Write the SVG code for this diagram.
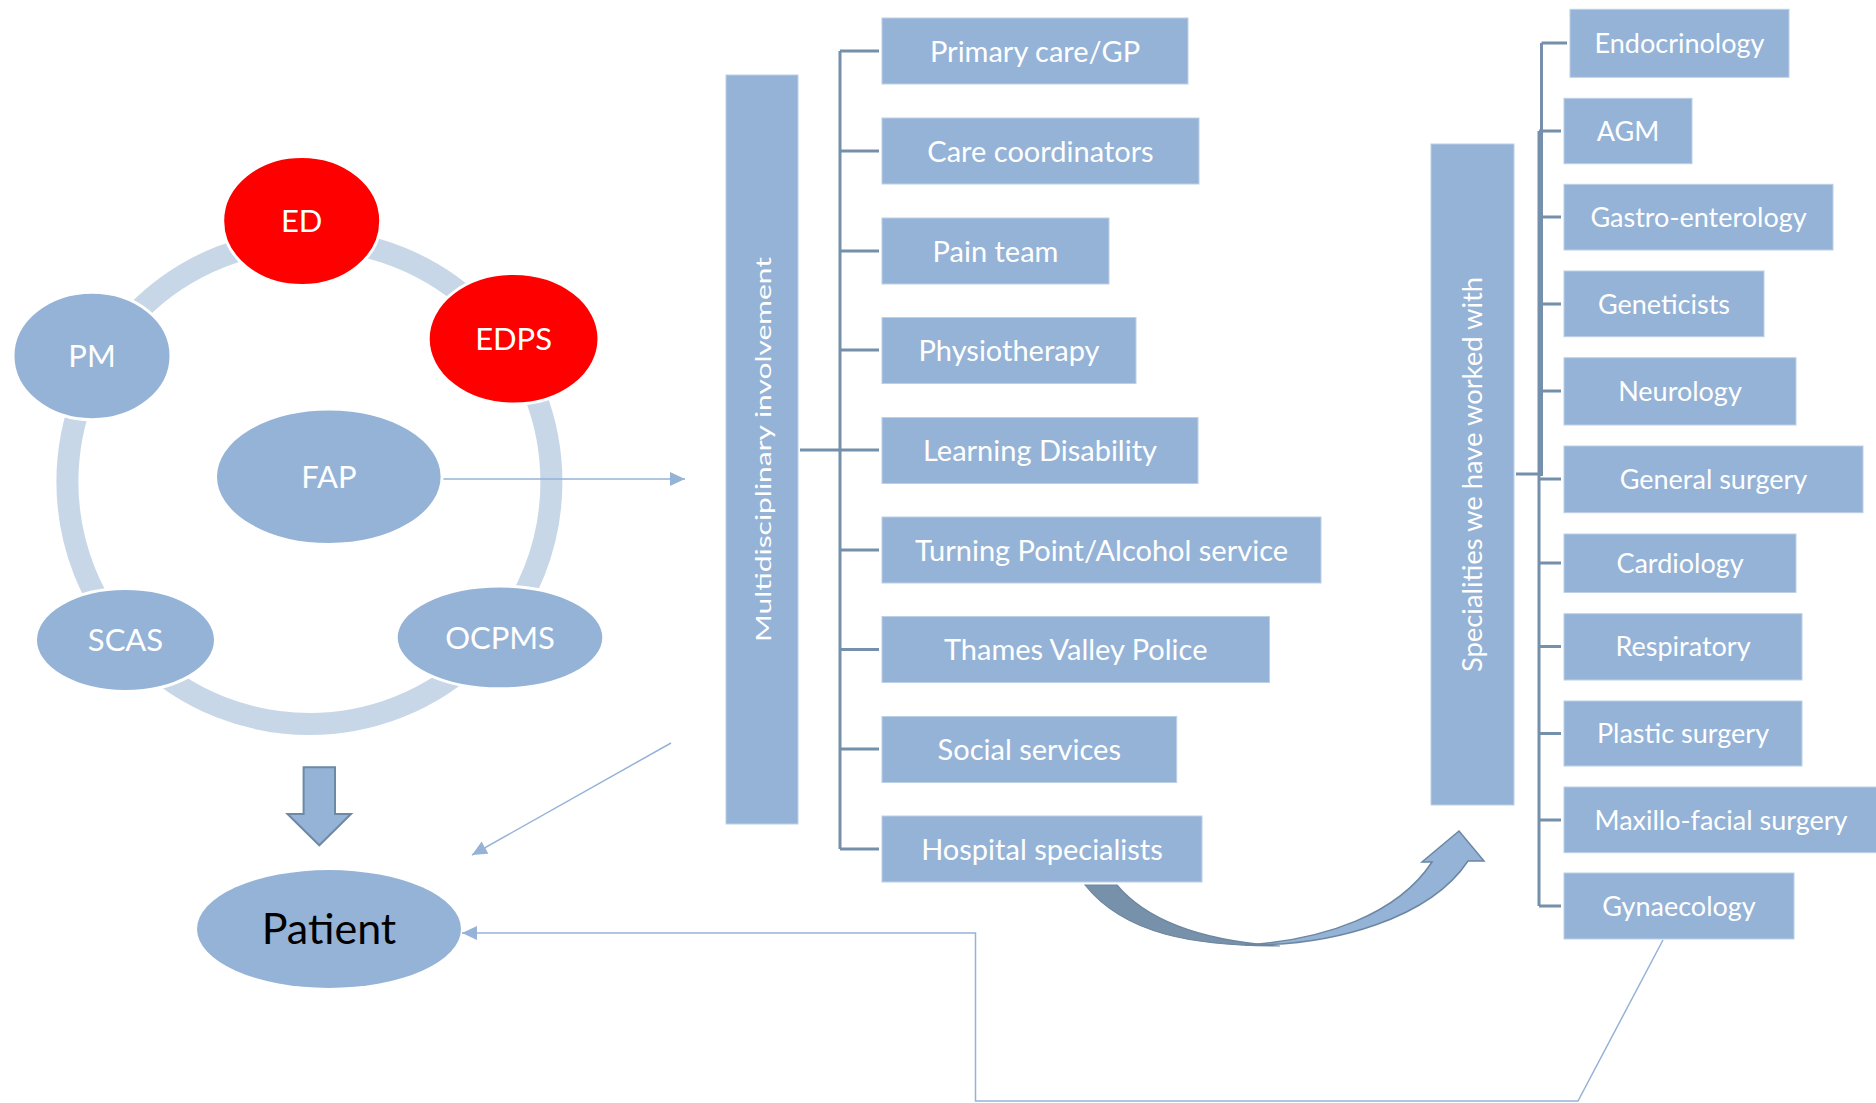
<svg xmlns="http://www.w3.org/2000/svg" width="1876" height="1103" viewBox="0 0 1876 1103">
<style>
text{font-family:Lato,"Liberation Sans",sans-serif;fill:#fff;text-anchor:middle}
.box{fill:#95b3d7;stroke:#bcd0e6;stroke-width:1}
.ell{fill:#95b3d7;stroke:#fff;stroke-width:3}
.red{fill:#ff0000;stroke:#fff;stroke-width:3}
.lbl{font-size:29px}
.rlbl{font-size:27px}
.cl{font-size:31px}
.br{fill:none;stroke:#7590aa;stroke-width:3}
.conn{fill:none;stroke:#95b3d7;stroke-width:1.5}
</style>
<defs>
<marker id="ah" markerUnits="userSpaceOnUse" markerWidth="16" markerHeight="16" refX="15" refY="7" orient="auto">
<path d="M0,0 L15,7 L0,14 Z" fill="#95b3d7"/>
</marker>
</defs>
<rect width="1876" height="1103" fill="#fff"/>

<!-- ring -->
<circle id="ring" cx="309.4" cy="482" r="242" fill="none" stroke="#c8d7e7" stroke-width="22"/>

<g id="connectors">
<path class="conn" d="M442,479 L685,479" marker-end="url(#ah)"/>
<path class="conn" d="M671,743 L472,855" marker-end="url(#ah)"/>
<path class="conn" d="M1663,940 L1578,1101 L975.5,1101 L975.5,933 L462,933" marker-end="url(#ah)"/>
<!-- middle bracket -->
<path class="br" d="M840,51 L840,849"/>
<path class="br" stroke-width="4" d="M800,450 L840,450"/>
<path class="br" d="M840,51 H879 M840,151 H879 M840,251 H879 M840,350 H879 M840,450 H879 M840,550 H879 M840,649.5 H879 M840,749 H879 M840,849 H879"/>
<!-- right bracket -->
<path class="br" d="M1541.5,43 L1541.5,476 M1541.5,43 H1567"/>
<path class="br" d="M1539,131 L1539,906"/>
<path class="br" d="M1516,474 H1541"/>
<path class="br" d="M1539,131 H1561 M1539,217 H1561 M1539,304 H1561 M1539,391 H1561 M1539,479 H1561 M1539,563 H1561 M1539,646.5 H1561 M1539,733.5 H1561 M1539,820 H1561 M1539,906 H1561"/>
<!-- down block arrow -->
<polygon points="303.6,767.3 335,767.3 335,814 351,814 319.3,845.3 287.5,814 303.6,814" fill="#95b3d7" stroke="#6c89a5" stroke-width="2"/>
<!-- curved arrow -->
<path d="M1085,885 C1125,935 1195,946 1280,946 C1205,941 1148,922 1117,885 Z" fill="#7791aa" stroke="#6c87a1" stroke-width="1.2"/>
<path d="M1245,945 C1335,946 1430,918 1468,861 L1484,861 L1459,831 L1422,862 L1432,862 C1398,914 1325,940 1245,945 Z" fill="#95b3d7" stroke="#6c87a1" stroke-width="1.5"/>
</g>

<g id="node-ED"><ellipse class="red" cx="301.7" cy="221" rx="79" ry="64.5"/><text class="cl" x="301.7" y="232">ED</text></g>
<g id="node-EDPS"><ellipse class="red" cx="513.6" cy="338.8" rx="85.4" ry="65.3"/><text class="cl" x="513.6" y="350">EDPS</text></g>
<g id="node-PM"><ellipse class="ell" cx="92" cy="356" rx="79" ry="63.7"/><text class="cl" x="92" y="367">PM</text></g>
<g id="node-FAP"><ellipse class="ell" cx="328.8" cy="476.7" rx="113.3" ry="67.8"/><text class="cl" x="329" y="488">FAP</text></g>
<g id="node-SCAS"><ellipse class="ell" cx="125.5" cy="640" rx="90" ry="51.4"/><text class="cl" x="125.5" y="651">SCAS</text></g>
<g id="node-OCPMS"><ellipse class="ell" cx="500" cy="637.4" rx="103.8" ry="51.4"/><text class="cl" x="500" y="648.5">OCPMS</text></g>
<g id="node-Patient"><ellipse fill="#95b3d7" cx="329" cy="929" rx="132" ry="59"/><text x="329" y="944" font-size="43" style="fill:#000">Patient</text></g>

<g id="node-multidisciplinary"><rect class="box" x="726" y="75" width="72" height="749"/><text transform="translate(771,449.5) rotate(-90)" x="0" y="0" font-size="21" textLength="385" lengthAdjust="spacingAndGlyphs">Multidisciplinary involvement</text></g>

<g id="node-primary"><rect class="box" x="882" y="18" width="306" height="66"/><text class="lbl" x="1035" y="61.5">Primary care/GP</text></g>
<g id="node-care"><rect class="box" x="882" y="118" width="317" height="66"/><text class="lbl" x="1040.5" y="161.5">Care coordinators</text></g>
<g id="node-pain"><rect class="box" x="882" y="218" width="227" height="66"/><text class="lbl" x="995.5" y="261.5">Pain team</text></g>
<g id="node-physio"><rect class="box" x="882" y="317.5" width="254" height="66"/><text class="lbl" x="1009" y="361">Physiotherapy</text></g>
<g id="node-learning"><rect class="box" x="882" y="417.5" width="316" height="66"/><text class="lbl" x="1040" y="460.5">Learning Disability</text></g>
<g id="node-turning"><rect class="box" x="882" y="517" width="439" height="66"/><text class="lbl" x="1101.5" y="560.5">Turning Point/Alcohol service</text></g>
<g id="node-police"><rect class="box" x="882" y="616.5" width="387.5" height="66"/><text class="lbl" x="1075.7" y="660">Thames Valley Police</text></g>
<g id="node-social"><rect class="box" x="882" y="716.5" width="294.7" height="66"/><text class="lbl" x="1029.3" y="759.5">Social services</text></g>
<g id="node-hospital"><rect class="box" x="882" y="816" width="320" height="66"/><text class="lbl" x="1042" y="859.5">Hospital specialists</text></g>

<g id="node-specialities"><rect class="box" x="1431" y="144" width="83" height="661"/><text transform="translate(1482,474.5) rotate(-90)" x="0" y="0" font-size="27" textLength="395" lengthAdjust="spacingAndGlyphs">Specialities we have worked with</text></g>

<g id="node-endo"><rect class="box" x="1570" y="9.3" width="219" height="68"/><text class="rlbl" x="1679.5" y="52.5">Endocrinology</text></g>
<g id="node-agm"><rect class="box" x="1564" y="98.3" width="128" height="65.4"/><text class="rlbl" x="1628" y="140.5">AGM</text></g>
<g id="node-gastro"><rect class="box" x="1564" y="184.3" width="269" height="65.7"/><text class="rlbl" x="1698.5" y="226.5">Gastro-enterology</text></g>
<g id="node-gene"><rect class="box" x="1564" y="271" width="200" height="65.7"/><text class="rlbl" x="1664" y="313.5">Geneticists</text></g>
<g id="node-neuro"><rect class="box" x="1564" y="357.7" width="232" height="67.3"/><text class="rlbl" x="1680" y="400.5">Neurology</text></g>
<g id="node-gensurg"><rect class="box" x="1564" y="446" width="299" height="66.7"/><text class="rlbl" x="1713.5" y="488.5">General surgery</text></g>
<g id="node-cardio"><rect class="box" x="1564" y="534" width="232" height="58.5"/><text class="rlbl" x="1680" y="572.5">Cardiology</text></g>
<g id="node-resp"><rect class="box" x="1564" y="613.7" width="238" height="66.3"/><text class="rlbl" x="1683" y="656">Respiratory</text></g>
<g id="node-plastic"><rect class="box" x="1564" y="701" width="238" height="65"/><text class="rlbl" x="1683" y="743">Plastic surgery</text></g>
<g id="node-maxillo"><rect class="box" x="1564" y="787" width="316" height="65.7"/><text class="rlbl" x="1721" y="829.5">Maxillo-facial surgery</text></g>
<g id="node-gyn"><rect class="box" x="1564" y="873" width="230" height="66"/><text class="rlbl" x="1679" y="915.5">Gynaecology</text></g>
</svg>
